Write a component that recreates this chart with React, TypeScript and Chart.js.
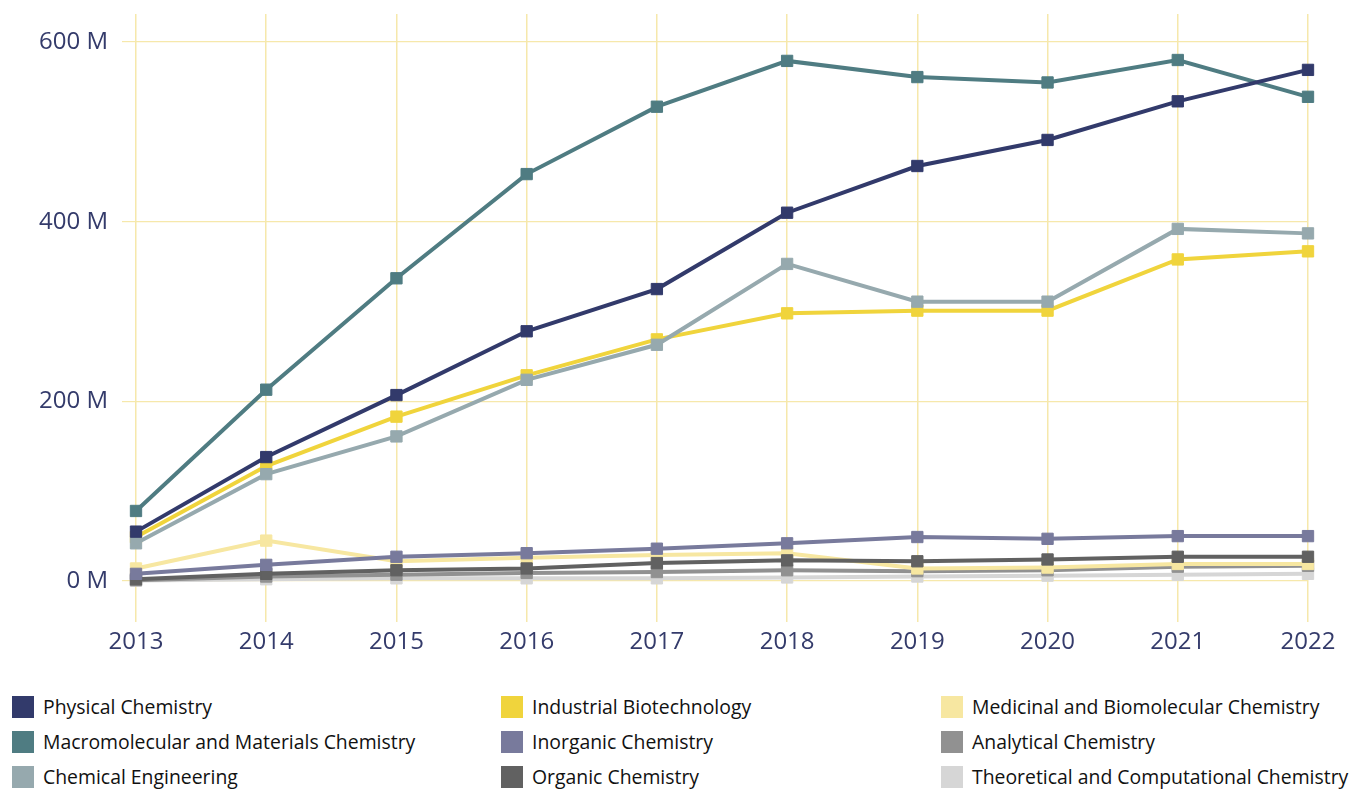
import React, { useEffect, useRef } from "react";
import { Chart, registerables } from "chart.js";

Chart.register(...registerables);

const years = ["2013", "2014", "2015", "2016", "2017", "2018", "2019", "2020", "2021", "2022"];

// values in millions
const physical = [55, 138, 207, 278, 325, 410, 462, 491, 534, 569];
const macromolecular = [78, 213, 337, 453, 528, 579, 561, 555, 580, 539];
const chemicalEngineering = [42, 119, 161, 224, 263, 353, 311, 311, 392, 387];
const industrialBiotech = [49, 128, 183, 229, 269, 298, 301, 301, 358, 367];
const inorganic = [8, 18, 27, 31, 36, 42, 49, 47, 50, 50];
const organic = [2, 8, 12, 14, 20, 23, 22, 24, 27, 27];
const medicinal = [14, 45, 22, 26, 29, 31, 14, 15, 19, 19];
const analytical = [1, 5, 7, 9, 10, 12, 11, 12, 16, 17];
const theoretical = [0.5, 2, 3, 3, 3, 4, 5, 6, 7, 8];

const yTicks = [0, 200, 400, 600];

const seriesNames = [
  "Physical Chemistry",
  "Macromolecular and Materials Chemistry",
  "Chemical Engineering",
  "Industrial Biotechnology",
  "Inorganic Chemistry",
  "Organic Chemistry",
  "Medicinal and Biomolecular Chemistry",
  "Analytical Chemistry",
  "Theoretical and Computational Chemistry",
];
const seriesData = [
  physical,
  macromolecular,
  chemicalEngineering,
  industrialBiotech,
  inorganic,
  organic,
  medicinal,
  analytical,
  theoretical,
];
const seriesColors = [
  "#323a6b",
  "#4f7c82",
  "#96a9ae",
  "#f0d43c",
  "#787a9c",
  "#616161",
  "#f7e7a1",
  "#919191",
  "#d6d6d6",
];

const gridColor = "#f6e8ab";
const axisTextColor = "#343b6b";

export default function App() {
  const ref = useRef<HTMLCanvasElement>(null);

  useEffect(() => {
    if (!ref.current) return;
    const chart = new Chart(ref.current, {
      type: "line",
      data: {
        labels: years,
        datasets: seriesNames.map((name, i) => ({
          label: name,
          data: seriesData[i],
          borderColor: seriesColors[i],
          backgroundColor: seriesColors[i],
          pointBackgroundColor: seriesColors[i],
          pointBorderColor: seriesColors[i],
          borderWidth: 4,
          pointStyle: "rect",
          pointRadius: 8,
          pointBorderWidth: 1,
          tension: 0,
          fill: false,
        })),
      },
      options: {
        responsive: false,
        animation: false,
        layout: { padding: { top: 14, right: 44, left: 0, bottom: 0 } },
        plugins: {
          legend: { display: false },
          tooltip: { enabled: false },
        },
        scales: {
          x: {
            offset: false,
            grid: { color: gridColor, drawTicks: false, lineWidth: 1.5 },
            border: { display: false },
            ticks: {
              color: axisTextColor,
              font: { family: "'Open Sans'", size: 24 },
              padding: 6,
              maxRotation: 0,
              autoSkip: false,
            },
            afterFit: (s: any) => {
              s.height = 58;
              s.paddingLeft = 0;
              s.paddingRight = 0;
            },
          },
          y: {
            min: -45.6,
            max: 631.2,
            afterBuildTicks: (s: any) => {
              s.ticks = yTicks.map((v) => ({ value: v }));
            },
            grid: { color: gridColor, tickLength: 14, lineWidth: 1.2 },
            border: { display: false },
            ticks: {
              color: axisTextColor,
              font: { family: "'Open Sans'", size: 24 },
              padding: 14,
              callback: (v: any) => `${v} M`,
            },
            afterFit: (s: any) => {
              s.width = 136;
              s.paddingTop = 0;
              s.paddingBottom = 0;
            },
          },
        },
      },
    });
    return () => chart.destroy();
  }, []);

  const colX = [12, 501, 941];
  const rowY = [707, 742, 777];

  return (
    <div
      style={{
        position: "absolute",
        left: 0,
        top: 0,
        width: 1352,
        height: 790,
        background: "#ffffff",
        overflow: "hidden",
      }}
    >
      <canvas ref={ref} width={1352} height={680} style={{ display: "block" }} />
      {seriesNames.map((name, i) => {
        const col = Math.floor(i / 3);
        const row = i % 3;
        return (
          <div
            key={name}
            style={{
              position: "absolute",
              left: colX[col],
              top: rowY[row] - 12,
              height: 24,
              display: "flex",
              alignItems: "center",
              fontFamily: "'Open Sans', sans-serif",
              fontSize: 19.4,
              color: "#111111",
              whiteSpace: "nowrap",
            }}
          >
            <span
              style={{
                display: "inline-block",
                width: 22,
                height: 22,
                background: seriesColors[i],
                marginRight: 9,
                flex: "none",
              }}
            />
            <span style={{ position: "relative", top: -1 }}>{name}</span>
          </div>
        );
      })}
    </div>
  );
}
